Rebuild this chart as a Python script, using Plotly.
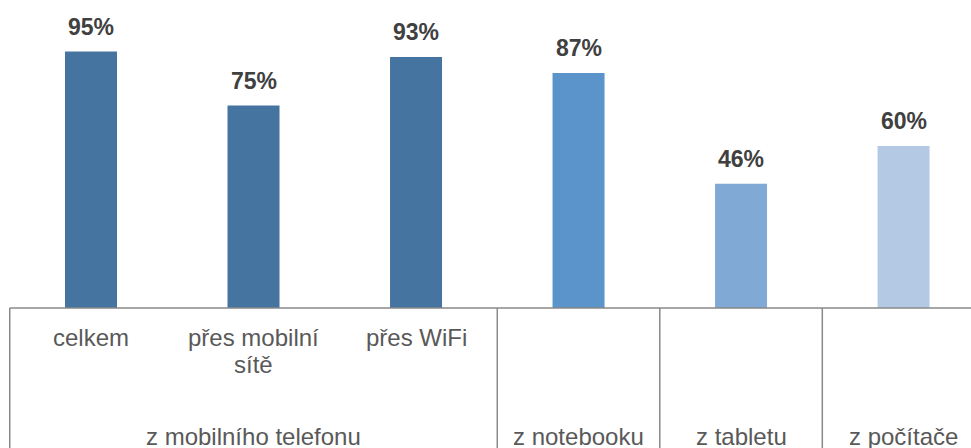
import plotly.graph_objects as go

categories = ["celkem", "přes mobilní sítě", "přes WiFi", "", "", ""]
category_lines = [["celkem"], ["přes mobilní", "sítě"], ["přes WiFi"], [], [], []]
values = [95, 75, 93, 87, 46, 60]
value_labels = ["95%", "75%", "93%", "87%", "46%", "60%"]
bar_colors = ["#44749F", "#44749F", "#44749F", "#5B94CB", "#80A9D5", "#B4C9E4"]
groups = ["z mobilního telefonu", "z notebooku", "z tabletu", "z počítače"]
group_centers = [1, 3, 4, 5]
group_edges = [-0.5, 2.5, 3.5, 4.5]

xs = list(range(len(values)))
FONT = "Liberation Sans, Arial, sans-serif"

fig = go.Figure()
fig.add_trace(go.Bar(
    x=xs, y=values, width=0.32,
    marker=dict(color=bar_colors, line=dict(width=0)),
    hoverinfo="skip",
))

annotations = []
for x, v, t in zip(xs, values, value_labels):
    annotations.append(dict(
        x=x, y=v, xref="x", yref="y", text=f"<b>{t}</b>", showarrow=False,
        yanchor="bottom", yshift=10,
        font=dict(family=FONT, size=23, color="#404040"),
    ))
for x, lines in zip(xs, category_lines):
    for k, line in enumerate(lines):
        annotations.append(dict(
            x=x, y=0, xref="x", yref="paper", text=line, showarrow=False,
            yanchor="top", yshift=-14 - 27 * k,
            font=dict(family=FONT, size=24, color="#595959"),
        ))
for gx, g in zip(group_centers, groups):
    annotations.append(dict(
        x=gx, y=0, xref="x", yref="paper", text=g, showarrow=False,
        yanchor="top", yshift=-113,
        font=dict(family=FONT, size=24, color="#595959"),
    ))

shapes = [dict(type="line", xref="x", yref="paper", x0=-0.5, x1=5.6, y0=0, y1=0,
               line=dict(color="#898989", width=1.5))]
for e in group_edges:
    shapes.append(dict(type="line", xref="x", yref="paper", x0=e, x1=e, y0=0, y1=-0.7,
                       line=dict(color="#898989", width=1.5)))

fig.update_layout(
    width=971, height=448,
    margin=dict(l=0, r=0, t=38, b=140),
    paper_bgcolor="white", plot_bgcolor="white",
    showlegend=False,
    xaxis=dict(range=[-0.56, 5.415], showgrid=False, zeroline=False, showline=False,
               showticklabels=False, ticks="", fixedrange=True),
    yaxis=dict(range=[0, 100], showgrid=False, zeroline=False, showline=False,
               showticklabels=False, ticks="", fixedrange=True),
    annotations=annotations,
    shapes=shapes,
)

fig.write_html(
    "out.html",
    config={"displayModeBar": False},
    post_script="document.body.style.margin='0';document.body.style.overflow='hidden';",
)
